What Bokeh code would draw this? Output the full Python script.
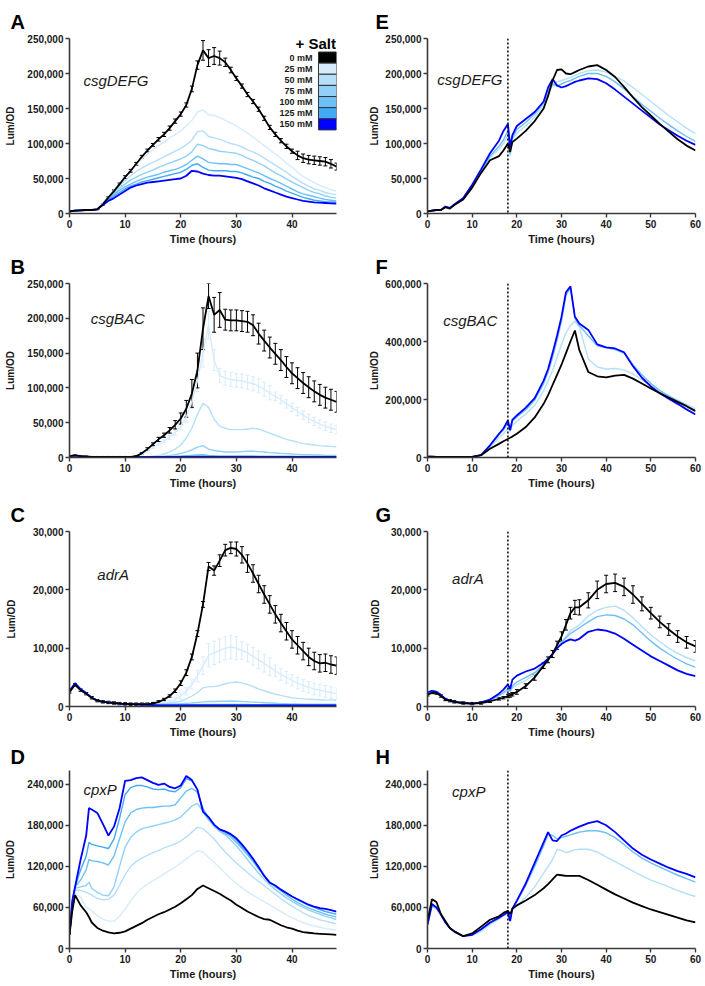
from bokeh.plotting import figure
from bokeh.models import (Range1d, FixedTicker, NumeralTickFormatter, Label, Span,
                          Whisker, TeeHead, ColumnDataSource, Title)
from bokeh.layouts import column, row
from bokeh.embed import file_html
from bokeh.resources import INLINE
from bokeh.core.properties import value

FONT = "Liberation Sans"

# ---------------- legend / series identity ----------------
salt_labels = ["0 mM", "25 mM", "50 mM", "75 mM", "100 mM", "125 mM", "150 mM"]
salt_colors = ["#000000", "#d6ecfc", "#b5dffa", "#93d0f8", "#6dc0f6", "#42aaf5", "#0000ff"]

# ---------------- time axes (hours) ----------------
t_L = [0, 1, 2, 3, 4, 5, 6, 7, 8, 9, 10, 11, 12, 13, 14, 15, 16, 17, 18, 19, 20, 21, 22, 23, 24,
       25, 26, 27, 28, 29, 30, 31, 32, 33, 34, 35, 36, 37, 38, 39, 40, 41, 42, 43, 44, 45, 46, 47, 48]
t_D = [0, 0.5, 1, 2, 3, 3.5, 4, 5, 6, 7, 8, 9, 10, 11, 12, 13, 14, 15, 16, 17, 18, 19, 20, 21, 22, 23,
       24, 25, 26, 27, 28, 29, 30, 31, 32, 33, 34, 35, 36, 37, 38, 39, 40, 41, 42, 43, 44, 45, 46, 47, 48]
t_R = [0, 1, 2, 3, 4, 5, 6, 8, 10, 12, 14, 16, 17, 18, 18.5, 19, 20, 22, 24, 26, 27, 28, 29, 30, 31,
       32, 33, 34, 36, 38, 40, 42, 44, 46, 48, 50, 52, 54, 56, 58, 60]

# ---------------- Panel A: csgDEFG (Lum/OD, thousands) ----------------
A0 = [3, 4, 4.5, 5, 5, 6, 13, 23, 32, 42, 52, 61, 71, 81, 90, 98, 106, 113, 122, 132,
      142, 155, 178, 212, 233, 222, 225, 222, 216, 205, 193, 182, 170, 160, 149, 136, 123, 113, 104, 96,
      89, 83, 79, 77, 76, 75, 74, 71, 67]
A0_err = [0.5, 0.5, 0.5, 0.5, 0.5, 0.5, 1, 1, 1.5, 1.5, 2, 2, 2, 2, 2, 2, 2.5, 3, 3, 3,
          3, 3, 4, 6, 14, 12, 12, 10, 6, 4, 3, 3, 3, 3, 3, 3, 3, 3, 3, 3,
          3, 6, 6, 6, 6, 6, 6, 6, 5]
A25 = [3, 4, 4.5, 5, 5, 6, 15, 24, 33, 42, 52, 61, 70, 78, 85, 91, 97, 102, 108, 113,
       118, 125, 133, 145, 148, 141, 140, 137, 133, 129, 125, 120, 115, 109, 103, 97, 91, 85, 79, 72,
       66, 59, 53, 48, 44, 40, 37, 34, 32]
A50 = [3, 4, 4.5, 5, 5, 6, 15, 23, 31, 39, 47, 54, 60, 65, 69, 73, 77, 81, 85, 89,
       93, 98, 105, 117, 118, 110, 108, 106, 103, 100, 98, 95, 91, 88, 84, 79, 74, 69, 64, 59,
       53, 48, 43, 39, 35, 33, 30, 28, 27]
A75 = [3, 4, 4.5, 5, 5, 6, 14, 22, 29, 36, 42, 48, 52, 56, 59, 62, 66, 69, 72, 75,
       78, 82, 88, 99, 97, 93, 91, 89, 88, 87, 86, 83, 79, 76, 72, 68, 63, 58, 54, 49,
       45, 41, 37, 33, 30, 28, 25, 23, 22]
A100 = [3, 4, 4.5, 5, 5, 6, 13, 21, 27, 33, 38, 42, 46, 49, 52, 54, 56, 59, 61, 63,
        66, 70, 76, 82, 78, 73, 72, 71, 71, 70, 70, 67, 64, 61, 58, 54, 50, 47, 43, 39,
        35, 31, 28, 26, 24, 22, 20, 19, 18]
A125 = [3, 4, 4.5, 5, 5, 6, 13, 20, 25, 30, 35, 39, 42, 45, 47, 49, 51, 53, 55, 57,
        59, 63, 69, 71, 66, 62, 61, 61, 61, 60, 60, 58, 55, 52, 50, 46, 43, 39, 36, 32,
        29, 26, 23, 21, 19, 18, 17, 16.5, 16]
A150 = [3, 4, 4.5, 5, 5, 6, 12, 18, 22, 27, 32, 37, 40, 42, 44, 45, 46, 47, 48, 49,
        50, 54, 61, 60, 57, 55, 54, 54, 53, 52, 51, 49, 46, 43, 40, 36, 33, 30, 27, 24,
        22, 20, 18, 17, 16, 15.5, 15, 14.5, 14]

# ---------------- Panel B: csgBAC ----------------
B0 = [2, 3, 2, 1.5, 1, 1, 1, 1, 1, 1, 1, 1, 2, 6, 12, 19, 26, 32, 39, 47,
      56, 70, 92, 125, 185, 232, 205, 212, 198, 197, 197, 196, 195, 190, 178, 168, 158, 149, 140, 130,
      121, 114, 107, 101, 95, 90, 86, 83, 80]
B0_err = [0.5, 0.5, 0.5, 0.5, 0.5, 0.5, 0.5, 0.5, 0.5, 0.5, 0.5, 0.5, 0.5, 1, 2, 2, 3, 3, 4, 6,
          8, 12, 20, 25, 30, 18, 25, 25, 15, 15, 15, 15, 15, 15, 15, 15, 15, 15, 15, 15,
          15, 15, 15, 15, 15, 15, 15, 15, 15]
B25 = [2, 3, 2, 1, 1, 1, 1, 1, 1, 1, 1, 1, 1.5, 4, 9, 14, 19, 24, 29, 36,
       45, 58, 80, 110, 150, 190, 140, 118, 114, 112, 111, 110, 108, 106, 103, 98, 93, 88, 83, 77,
       72, 66, 61, 56, 52, 48, 45, 42, 40]
B25_err = [0, 0, 0, 0, 0, 0, 0, 0, 0, 0, 0, 0, 0, 0.5, 1, 1, 2, 2, 3, 4,
           5, 8, 10, 15, 20, 20, 15, 10, 10, 10, 10, 10, 10, 10, 10, 10, 10, 6, 6, 6,
           6, 6, 6, 6, 6, 6, 6, 6, 6]
B50 = [2, 3, 2, 1, 1, 1, 1, 1, 1, 1, 1, 1, 1, 1, 1, 2, 3, 5, 8, 12,
       18, 28, 42, 62, 78, 72, 55, 45, 42, 40, 40, 40, 41, 42, 41, 38, 35, 32, 29, 26,
       24, 22, 20, 19, 18, 17, 16.5, 16, 15]
B75 = [2, 3, 2, 1, 1, 1, 1, 1, 1, 1, 1, 1, 1, 1, 1, 1, 1, 2, 3, 4,
       6, 8, 11, 15, 17, 12, 10, 9, 8, 8, 8, 8.5, 9, 9, 8.5, 8, 7, 6.5, 6, 5.5,
       5, 4.5, 4, 4, 3.5, 3.5, 3, 3, 3]
B100 = [2, 3, 2, 1, 1, 1, 1, 1, 1, 1, 1, 1, 1, 1, 1, 1, 1, 1, 1, 1.5,
        2, 2.5, 3, 3.5, 4, 3, 2.5, 2.2, 2.2, 2.2, 2.2, 2.2, 2.2, 2.2, 2, 2, 2, 2, 2, 2,
        2, 1.5, 1.5, 1.5, 1.5, 1.5, 1.5, 1.5, 1.5]
B125 = [2, 3, 2, 1, 1, 1, 1, 1, 1, 1, 1, 1, 1, 1, 1, 1, 1, 1, 1, 1,
        1.5, 1.5, 1.5, 1.8, 2, 1.5, 1.5, 1.2, 1.2, 1.2, 1.2, 1.2, 1.2, 1.2, 1.2, 1.2, 1.2, 1.2, 1.2, 1.2,
        1.2, 1.2, 1.2, 1.2, 1.2, 1.2, 1.2, 1.2, 1.2]
B150 = [2, 3, 2, 1, 1, 1, 1, 1, 1, 1, 1, 1, 1, 1, 1, 1, 1, 1, 1, 1,
        1, 1, 1, 1, 1, 1, 1, 1, 1, 1, 1, 1, 1, 1, 1, 1, 1, 1, 1, 1,
        1, 1, 1, 1, 1, 1, 1, 1, 1]

# ---------------- Panel C: adrA ----------------
C0 = [2.5, 3.7, 2.8, 2.2, 1.5, 1.0, 0.8, 0.7, 0.6, 0.5, 0.45, 0.4, 0.4, 0.4, 0.4, 0.5, 0.8, 1.2, 1.8, 2.7,
      4.0, 5.8, 8.5, 12.5, 17.5, 24, 23.3, 25, 26.8, 27.2, 27, 26, 24.5, 22.8, 21, 19.2, 17.5, 15.8, 14.3, 12.9,
      11.5, 10.5, 9.5, 8.5, 7.8, 7.4, 7.5, 7.2, 7.0]
C0_err = [0.2, 0.2, 0.2, 0.2, 0.2, 0.2, 0.2, 0.2, 0.2, 0.2, 0.2, 0.2, 0.2, 0.2, 0.2, 0.2, 0.2, 0.2, 0.2, 0.3,
          0.4, 0.5, 0.5, 0.5, 0.5, 0.7, 0.8, 1, 1, 1, 1.2, 1.4, 1.5, 1.5, 1.5, 1.5, 1.5, 1.5, 1.5, 1.5,
          1.5, 1.5, 1.5, 1.5, 1.5, 1.5, 1.5, 1.5, 1.5]
C25 = [2.5, 3.7, 2.8, 2.2, 1.5, 1.0, 0.8, 0.7, 0.6, 0.5, 0.4, 0.4, 0.4, 0.4, 0.4, 0.45, 0.5, 0.6, 0.8, 1.2,
       1.8, 2.6, 3.8, 5.2, 7, 8.8, 9.2, 9.6, 10, 10.2, 10, 9.6, 9.2, 8.6, 8, 7.4, 6.8, 6.1, 5.5, 5,
       4.5, 4, 3.6, 3.3, 3, 2.8, 2.6, 2.4, 2.2]
C25_err = [0, 0, 0, 0, 0, 0, 0, 0, 0, 0, 0, 0, 0, 0, 0, 0, 0, 0, 0.2, 0.3,
           0.5, 0.6, 0.8, 1, 1.5, 2, 2, 2, 2, 2, 2, 1.5, 1.5, 1.5, 1.5, 1.5, 1.5, 1, 1, 1,
           1, 1, 1, 1, 1, 1, 1, 1, 1]
C50 = [2.5, 3.7, 2.8, 2.2, 1.5, 1.0, 0.8, 0.7, 0.6, 0.5, 0.4, 0.4, 0.4, 0.4, 0.4, 0.4, 0.45, 0.5, 0.55, 0.7,
       0.9, 1.3, 1.8, 2.4, 3.2, 3.4, 3.4, 3.6, 3.9, 4.1, 4.2, 4.0, 3.8, 3.4, 3.0, 2.7, 2.4, 2.1, 1.9, 1.7,
       1.5, 1.4, 1.3, 1.25, 1.2, 1.15, 1.1, 1.1, 1.1]
C75 = [2.5, 3.7, 2.8, 2.2, 1.5, 1.0, 0.8, 0.7, 0.6, 0.5, 0.4, 0.4, 0.4, 0.4, 0.4, 0.35, 0.35, 0.4, 0.4, 0.45,
       0.5, 0.55, 0.6, 0.7, 0.8, 0.85, 0.85, 0.9, 0.9, 0.95, 0.9, 0.85, 0.8, 0.75, 0.7, 0.65, 0.6, 0.55, 0.5, 0.5,
       0.45, 0.45, 0.4, 0.4, 0.4, 0.4, 0.4, 0.4, 0.4]
C100 = [2.5, 3.8, 2.8, 2.2, 1.5, 1.0, 0.8, 0.7, 0.6, 0.5, 0.4, 0.4, 0.4, 0.4, 0.35, 0.35, 0.3, 0.3, 0.3, 0.3,
        0.3, 0.3, 0.3, 0.35, 0.35, 0.35, 0.35, 0.35, 0.35, 0.35, 0.35, 0.35, 0.35, 0.3, 0.3, 0.3, 0.3, 0.3, 0.3, 0.3,
        0.3, 0.3, 0.3, 0.3, 0.3, 0.3, 0.3, 0.3, 0.3]
C125 = [2.6, 3.9, 2.9, 2.2, 1.5, 1.0, 0.8, 0.7, 0.6, 0.5, 0.4, 0.4, 0.35, 0.3, 0.3, 0.3, 0.25, 0.25, 0.25, 0.25,
        0.25, 0.25, 0.25, 0.25, 0.25, 0.25, 0.25, 0.25, 0.25, 0.25, 0.25, 0.25, 0.25, 0.25, 0.25, 0.25, 0.25, 0.25, 0.25, 0.25,
        0.25, 0.25, 0.25, 0.25, 0.25, 0.25, 0.25, 0.25, 0.25]
C150 = [2.7, 4.0, 3.0, 2.3, 1.5, 1.0, 0.8, 0.7, 0.6, 0.5, 0.4, 0.4, 0.35, 0.3, 0.3, 0.25, 0.2, 0.2, 0.2, 0.2,
        0.2, 0.2, 0.2, 0.2, 0.2, 0.2, 0.2, 0.2, 0.2, 0.2, 0.2, 0.2, 0.2, 0.2, 0.2, 0.2, 0.2, 0.2, 0.2, 0.2,
        0.2, 0.2, 0.2, 0.2, 0.2, 0.2, 0.2, 0.2, 0.2]

# ---------------- Panel D: cpxP ----------------
D0 = [20, 55, 78, 63, 53, 46, 38, 30, 26, 23.5, 22, 23, 25, 29, 33, 37, 42, 46, 50, 53, 57, 61,
      66, 72, 78, 87, 92, 88, 84, 80, 75, 70, 64, 59, 54, 50, 46, 43, 42, 38, 34, 31,
      29, 26, 24, 23, 22, 21.5, 21, 20.5, 20]
D25 = [20, 55, 80, 75, 60, 58, 55, 48, 43, 40, 40, 47, 58, 70, 80, 88, 94, 99, 104, 109, 114, 119,
       125, 131, 137, 143, 141, 133, 126, 118, 110, 102, 95, 89, 83, 78, 73, 68, 64, 59, 54, 49,
       45, 41, 38, 35, 33, 31, 29, 28, 27]
D50 = [20, 60, 85, 85, 82, 80, 78, 73, 71, 72, 78, 92, 108, 120, 127, 132, 136, 140, 143, 147, 150, 153,
       157, 163, 170, 177, 175, 168, 160, 150, 141, 133, 125, 118, 111, 104, 98, 92, 85, 79, 73, 67,
       62, 57, 52, 48, 45, 42, 40, 38, 36]
D75 = [20, 60, 88, 90, 92, 97, 88, 82, 78, 77, 90, 120, 148, 162, 170, 175, 177, 179, 181, 183, 185, 188,
       192, 200, 208, 212, 200, 188, 178, 171, 166, 158, 150, 140, 130, 120, 110, 101, 93, 86, 80, 74,
       69, 64, 60, 56, 53, 50, 47, 45, 42]
D100 = [20, 65, 90, 100, 115, 130, 128, 127, 125, 122, 135, 160, 185, 198, 203, 205, 206, 206, 207, 208, 208, 210,
        220, 230, 234, 228, 205, 190, 180, 173, 168, 163, 155, 146, 137, 127, 116, 106, 97, 90, 84, 78,
        72, 67, 63, 59, 56, 53, 50, 48, 46]
D125 = [20, 68, 90, 115, 135, 155, 152, 150, 148, 146, 160, 190, 225, 235, 238, 238, 236, 233, 232, 233, 230, 229,
        235, 248, 245, 232, 200, 190, 180, 174, 170, 166, 158, 149, 140, 129, 118, 107, 97, 91, 86, 81,
        76, 71, 67, 63, 60, 57, 54, 52, 50]
D150 = [20, 70, 90, 130, 165, 205, 203, 198, 182, 165, 178, 205, 245, 246, 249, 250, 246, 242, 239, 241, 236, 234,
        238, 252, 246, 232, 200, 192, 181, 174, 171, 167, 161, 152, 142, 131, 119, 106, 96, 92, 86, 81,
        76, 72, 68, 64, 61, 59, 58, 56, 54]

# ---------------- Panel E: csgDEFG (salt added at 18 h) ----------------
E0 = [3, 4, 5, 5, 9, 7, 12, 20, 37, 58, 76, 82, 90, 100, 88, 102, 107, 118, 132, 150,
      168, 190, 205, 206, 200, 199, 202, 205, 210, 212, 205, 195, 181, 166, 152, 140, 128, 117, 106, 97, 90]
E50 = [3, 4, 5, 5, 9, 7, 12, 21, 39, 60, 80, 92, 100, 112, 82, 105, 115, 125, 138, 155,
       170, 183, 188, 190, 192, 194, 197, 200, 204, 205, 202, 196, 189, 180, 170, 160, 150, 140, 131, 122, 114]
E100 = [3, 4, 5, 5, 9, 7, 12, 21, 40, 61, 82, 96, 105, 118, 85, 108, 120, 130, 142, 158,
        175, 185, 182, 185, 188, 190, 193, 196, 200, 200, 196, 188, 178, 167, 156, 146, 136, 127, 118, 110, 103]
E150 = [3, 4, 5, 5, 10, 8, 13, 22, 41, 63, 86, 104, 118, 128, 95, 112, 125, 135, 145, 160,
        180, 192, 183, 180, 182, 185, 188, 190, 193, 192, 186, 177, 167, 157, 147, 137, 127, 119, 111, 104, 98]

# ---------------- Panel F: csgBAC ----------------
F0 = [3, 3, 2, 2, 2, 2, 2, 2, 2, 8, 30, 47, 56, 64, 68, 72, 82, 105, 138, 185,
      215, 250, 285, 320, 360, 400, 438, 370, 295, 280, 276, 282, 285, 272, 255, 238, 222, 207, 192, 177, 160]
F50 = [3, 3, 2, 2, 2, 2, 2, 2, 2, 8, 35, 68, 82, 100, 90, 110, 125, 150, 180, 230,
       265, 300, 345, 390, 430, 455, 470, 450, 340, 312, 305, 307, 302, 288, 268, 250, 230, 213, 198, 183, 168]
F100 = [3, 3, 2, 2, 2, 2, 2, 2, 2, 8, 40, 78, 95, 118, 92, 125, 140, 165, 198, 255,
        295, 345, 405, 470, 560, 585, 480, 455, 420, 385, 378, 372, 360, 320, 285, 255, 232, 212, 195, 178, 162]
F150 = [3, 3, 2, 2, 2, 2, 2, 2, 2, 8, 42, 82, 100, 128, 95, 130, 145, 172, 205, 265,
        305, 360, 420, 485, 570, 590, 485, 462, 440, 390, 380, 376, 363, 315, 275, 245, 222, 203, 185, 166, 148]

# ---------------- Panel G: adrA ----------------
G0 = [2, 2.4, 2.3, 1.8, 1.2, 1.0, 0.8, 0.6, 0.5, 0.6, 0.9, 1.3, 1.5, 1.8, 1.9, 2.1, 2.5, 3.5, 5, 7,
      8, 9, 10.5, 12, 14, 16, 17, 17, 18.2, 20, 21, 21.2, 20.5, 19.2, 17.6, 16, 14.5, 13.2, 12, 11, 10.3]
G0_err = [0.2, 0.2, 0.2, 0.2, 0.2, 0.2, 0.2, 0.2, 0.2, 0.2, 0.2, 0.2, 0.2, 0.3, 0.3, 0.3, 0.4, 0.4, 0.5, 0.5,
          0.5, 0.6, 0.7, 0.8, 0.9, 1, 1.2, 1.3, 1.3, 1.5, 1.5, 1.5, 1.5, 1.5, 1.2, 1, 1, 1, 1, 1, 1]
G50 = [2.4, 2.7, 2.6, 2, 1.3, 1.0, 0.8, 0.6, 0.5, 0.7, 1.1, 1.8, 2.2, 2.8, 2.5, 3.2, 3.7, 4.5, 5.5, 7.2,
       8, 9, 10, 11, 12, 13, 13.5, 14, 15.5, 16.5, 17, 17.2, 16.5, 15.2, 13.7, 12.3, 11.1, 10, 9.1, 8.4, 7.8]
G100 = [2.4, 2.7, 2.6, 2, 1.3, 1.0, 0.8, 0.6, 0.5, 0.7, 1.1, 1.9, 2.4, 3.0, 2.6, 3.5, 4.2, 5, 5.8, 7.2,
        8, 9, 10, 11, 11.8, 12.5, 13, 13.5, 14.5, 15.4, 15.7, 15.6, 15, 14, 12.6, 11.2, 10, 9, 8.1, 7.3, 6.7]
G150 = [2.4, 2.7, 2.5, 2, 1.3, 1.0, 0.8, 0.6, 0.5, 0.7, 1.2, 2.2, 2.9, 3.8, 3.0, 4.6, 5.3, 6, 6.5, 7.5,
        8.2, 9, 10, 10.7, 11.2, 11.5, 11.3, 11.6, 12.8, 13.2, 13, 12.5, 11.6, 10.6, 9.6, 8.6, 7.8, 7, 6.2, 5.6, 5.2]

# ---------------- Panel H: cpxP ----------------
H0 = [40, 72, 68, 50, 40, 30, 25, 18, 22, 32, 42, 47, 52, 55, 50, 58, 63, 70, 78, 88,
      94, 101, 108, 107, 106, 106, 106, 106, 100, 93, 86, 79, 73, 67, 62, 57, 53, 49, 45, 41, 38]
H50 = [35, 60, 58, 48, 38, 30, 24, 18, 19, 25, 35, 43, 48, 52, 44, 57, 62, 75, 90, 110,
       120, 130, 145, 143, 140, 142, 144, 145, 145, 141, 134, 127, 120, 113, 106, 100, 95, 90, 85, 80, 76]
H100 = [35, 62, 60, 50, 38, 30, 24, 18, 20, 28, 37, 44, 49, 53, 42, 58, 68, 92, 120, 150,
        167, 165, 160, 162, 164, 166, 168, 170, 172, 172, 169, 162, 152, 141, 132, 125, 119, 113, 107, 102, 97]
H150 = [35, 65, 60, 50, 38, 30, 25, 18, 20, 28, 38, 45, 49, 53, 40, 58, 70, 95, 125, 155,
        170, 158, 157, 165, 168, 172, 175, 178, 183, 186, 180, 170, 158, 146, 137, 130, 124, 118, 113, 109, 104]

x_ticks_L = [0, 10, 20, 30, 40]
x_ticks_R = [0, 10, 20, 30, 40, 50, 60]
y_ticks_250 = [0, 50000, 100000, 150000, 200000, 250000]
y_ticks_30 = [0, 10000, 20000, 30000]
y_ticks_240 = [0, 60000, 120000, 180000, 240000]
y_ticks_600 = [0, 200000, 400000, 600000]

AXC = "#3a3a3a"
# layout (pixels): column-wise horizontal borders, row-wise vertical borders
FW = {0: 267, 1: 268}
BL = {0: 69, 1: 89}
BR = {0: 2, 1: 9}
BT = [38, 36, 40, 30]
FH = [178, 177, 178, 178]
BB = [31, 31, 31, 37]
TITLE_STANDOFF = [12, 11, 12, 6]


def k(vals):
    return [v * 1000 for v in vals]


def build(col, rw, t, series, xmax, ymax, yticks, letter, gene, gx, gy,
          errs=(), dotted=False, label_standoff=8):
    fw = FW[col]
    p = figure(width=BL[col] + fw + BR[col], height=BT[rw] + FH[rw] + BB[rw],
               min_border_left=BL[col], min_border_right=BR[col],
               min_border_top=BT[rw], min_border_bottom=BB[rw],
               x_range=Range1d(0, xmax), y_range=Range1d(0, ymax),
               output_backend="svg", toolbar_location=None)
    p.title = Title(text=letter, align="left", offset=-(59 if col == 0 else 52),
                    text_font=FONT, text_font_size="20px", text_font_style="bold",
                    text_color="black", standoff=TITLE_STANDOFF[rw])
    p.outline_line_color = None
    p.xgrid.visible = False
    p.ygrid.visible = False
    p.background_fill_color = "white"
    p.border_fill_color = "white"

    p.xaxis.ticker = FixedTicker(ticks=x_ticks_L if xmax == 48 else x_ticks_R)
    p.yaxis.ticker = FixedTicker(ticks=yticks)
    p.yaxis.formatter = NumeralTickFormatter(format="0,0")
    p.xaxis.axis_label = "Time (hours)"
    p.yaxis.axis_label = "Lum/OD"
    for ax in (p.xaxis[0], p.yaxis[0]):
        ax.axis_line_color = AXC
        ax.axis_line_width = 1.6
        ax.major_tick_line_color = AXC
        ax.major_tick_line_width = 1.4
        ax.major_tick_out = 4
        ax.major_tick_in = 0
        ax.minor_tick_line_color = None
        ax.major_label_text_font = FONT
        ax.major_label_text_font_style = "bold"
        ax.major_label_text_font_size = "10px"
        ax.major_label_text_color = "#1a1a1a"
        ax.major_label_standoff = 2
        ax.axis_label_text_font = FONT
        ax.axis_label_text_font_style = "bold"
        ax.axis_label_text_color = "#1a1a1a"
    p.xaxis[0].axis_label_text_font_size = "11px"
    p.xaxis[0].axis_label_standoff = 2
    p.yaxis[0].axis_label_text_font_size = "10px"
    p.yaxis[0].axis_label_standoff = label_standoff

    # error bars first (underneath lines)
    for vals, ev, ci in errs:
        c = salt_colors[ci]
        src = ColumnDataSource(dict(t=t, lo=[(v - e) * 1000 for v, e in zip(vals, ev)],
                                    hi=[(v + e) * 1000 for v, e in zip(vals, ev)]))
        p.add_layout(Whisker(source=src, base="t", lower="lo", upper="hi",
                             line_color=c, line_width=1,
                             upper_head=TeeHead(size=4, line_color=c, line_width=1),
                             lower_head=TeeHead(size=4, line_color=c, line_width=1)))

    # coloured series then black on top
    order = [s for s in series if s[1] != 0] + [s for s in series if s[1] == 0]
    for vals, ci in order:
        lw = 1.8 if ci in (0, 6) else 1.4
        p.line(t, k(vals), line_color=salt_colors[ci], line_width=lw)

    if dotted:
        p.add_layout(Span(location=18, dimension="height", line_color="black",
                          line_dash="2 2", line_width=1.5))

    p.add_layout(Label(x=gx, y=gy, text=gene, text_font=FONT, text_font_style="italic",
                       text_font_size="15px", text_color="#1a1a1a", text_baseline="middle"))
    return p


pA = build(0, 0, t_L, [(A0, 0), (A25, 1), (A50, 2), (A75, 3), (A100, 4), (A125, 5), (A150, 6)],
           48, 250000, y_ticks_250, "A", "csgDEFG", 2.5, 190000, errs=[(A0, A0_err, 0)])
pB = build(0, 1, t_L, [(B0, 0), (B25, 1), (B50, 2), (B75, 3), (B100, 4), (B125, 5), (B150, 6)],
           48, 250000, y_ticks_250, "B", "csgBAC", 3.8, 200000,
           errs=[(B25, B25_err, 1), (B0, B0_err, 0)])
pC = build(0, 2, t_L, [(C0, 0), (C25, 1), (C50, 2), (C75, 3), (C100, 4), (C125, 5), (C150, 6)],
           48, 30000, y_ticks_30, "C", "adrA", 5, 22600,
           errs=[(C25, C25_err, 1), (C0, C0_err, 0)], label_standoff=13)
pD = build(0, 3, t_D, [(D0, 0), (D25, 1), (D50, 2), (D75, 3), (D100, 4), (D125, 5), (D150, 6)],
           48, 260000, y_ticks_240, "D", "cpxP", 2.5, 232000)

pE = build(1, 0, t_R, [(E0, 0), (E50, 2), (E100, 4), (E150, 6)],
           60, 250000, y_ticks_250, "E", "csgDEFG", 2.2, 191000, dotted=True, label_standoff=2)
pF = build(1, 1, t_R, [(F0, 0), (F50, 2), (F100, 4), (F150, 6)],
           60, 600000, y_ticks_600, "F", "csgBAC", 3.5, 474000, dotted=True, label_standoff=2)
pG = build(1, 2, t_R, [(G0, 0), (G50, 2), (G100, 4), (G150, 6)],
           60, 30000, y_ticks_30, "G", "adrA", 5.5, 22000, dotted=True, label_standoff=7,
           errs=[(G0, G0_err, 0)])
pH = build(1, 3, t_R, [(H0, 0), (H50, 2), (H100, 4), (H150, 6)],
           60, 260000, y_ticks_240, "H", "cpxP", 5.5, 230000, dotted=True, label_standoff=2)

# ---------------- "+ Salt" legend inside panel A ----------------
leg_top = 230700
leg_step = 15900
tops = [leg_top - i * leg_step for i in range(len(salt_labels))]
pA.quad(left=44.76, right=48, top=tops, bottom=[tp - leg_step for tp in tops],
        fill_color=salt_colors, line_color="#333333", line_width=1)
pA.text(x=43.7, y=[tp - leg_step / 2 for tp in tops], text=salt_labels,
        text_font=value(FONT), text_font_style="bold", text_font_size="9px",
        text_color="#1a1a1a", text_align="right", text_baseline="middle")
pA.add_layout(Label(x=47.9, y=243500, text="+ Salt", text_font=FONT, text_font_style="bold",
                    text_font_size="15px", text_color="black", text_align="right",
                    text_baseline="middle"))

layout = column(row(pA, pE), row(pB, pF), row(pC, pG), row(pD, pH))
open("out.html", "w").write(file_html(layout, INLINE))
